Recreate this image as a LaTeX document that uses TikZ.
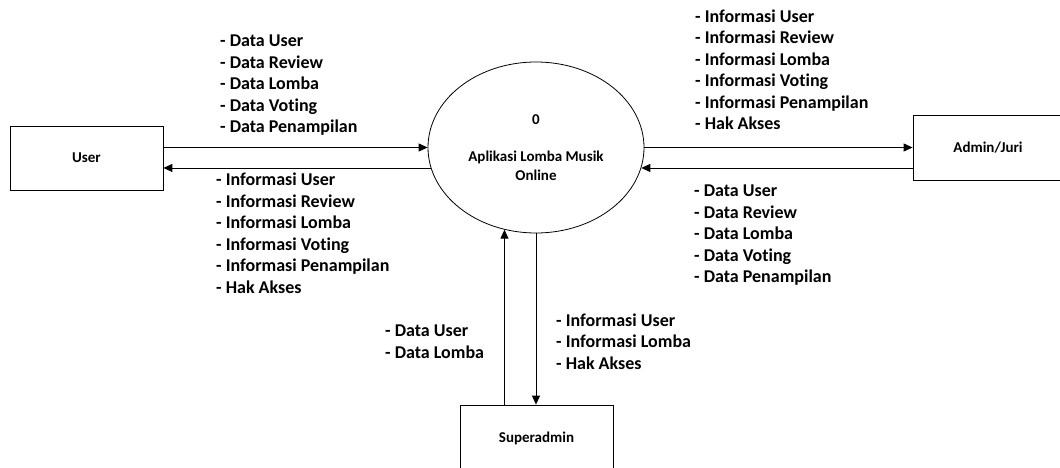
\documentclass[tikz,border=0pt]{standalone}
\usepackage{fontspec}
\setmainfont{Carlito}[Ligatures=NoCommon]
\usetikzlibrary{arrows.meta,shapes.geometric}
\begin{document}
\begin{tikzpicture}[x=1pt,y=-1pt,
  ent/.style={draw, line width=0.8pt, inner sep=0pt, font=\fontsize{15}{18}\selectfont\bfseries},
  proc/.style={draw, ellipse, line width=0.8pt, inner sep=0pt, minimum width=216pt, minimum height=171pt, align=center, font=\fontsize{15}{19}\selectfont\bfseries},
  flow/.style={-{Triangle[length=9pt,width=8pt]}, line width=0.9pt},
  lbl/.style={anchor=north west, inner sep=0pt, align=left, font=\fontsize{18}{21.5}\selectfont\bfseries}]
\useasboundingbox (0,0) rectangle (1060,468);
% entities
\node[ent, minimum width=153pt, minimum height=64pt] (user) at (86.5,158) {User};
\node[ent, minimum width=150pt, minimum height=65pt] (admin) at (988,147.5) {Admin/Juri};
\node[ent, minimum width=153pt, minimum height=66pt] (super) at (536.5,438) {Superadmin};
% process
\node[proc] (proc) at (536,147.5) {0\\[18pt]Aplikasi Lomba Musik\\Online};
% flows
\draw[flow] (user.east |- proc.west) -- (proc.west);
\draw[flow] (proc.191.6) -- (user.east |- proc.191.6);
\draw[flow] (proc.east) -- (admin.west |- proc.east);
\draw[flow] (admin.west |- proc.-11.6) -- (proc.-11.6);
\draw[flow] (super.north -| proc.249.9) -- (proc.249.9);
\draw[flow] (proc.south) -- (proc.south |- super.north);
% labels
\node[lbl] (l1) at (220,35) {- Data User\\- Data Review\\- Data Lomba\\- Data Voting\\- Data Penampilan};
\node[lbl] (l2) at (216,173) {- Informasi User\\- Informasi Review\\- Informasi Lomba\\- Informasi Voting\\- Informasi Penampilan\\- Hak Akses};
\node[lbl] (l3) at (695,9.5) {- Informasi User\\- Informasi Review\\- Informasi Lomba\\- Informasi Voting\\- Informasi Penampilan\\- Hak Akses};
\node[lbl] (l4) at (694,185) {- Data User\\- Data Review\\- Data Lomba\\- Data Voting\\- Data Penampilan};
\node[lbl] (l5) at (385,325) {- Data User\\- Data Lomba};
\node[lbl] (l6) at (556,313.5) {- Informasi User\\- Informasi Lomba\\- Hak Akses};
\end{tikzpicture}
\end{document}
